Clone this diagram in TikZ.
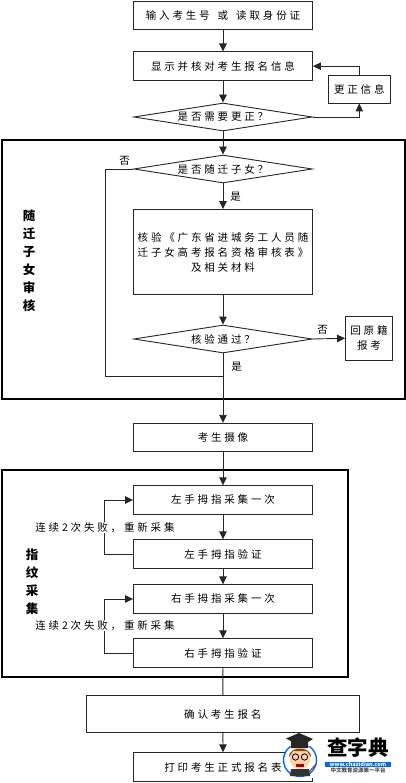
\documentclass[tikz,border=0pt]{standalone}
\usepackage{fontspec}
\usetikzlibrary{shapes.geometric,arrows.meta,calc}
\setmainfont{Noto Sans CJK SC}
\newfontfamily\spaced[LetterSpace=27]{Noto Sans CJK SC}
\tikzset{
  box/.style={draw=black!85,line width=0.9pt,rectangle,inner sep=0pt,minimum width=179pt,minimum height=28.5pt,align=center,font=\fontsize{10.5pt}{15pt}\spaced},
  smallbox/.style={box,minimum width=61.5pt,minimum height=28pt},
  dia/.style={draw=black!85,line width=0.9pt,diamond,inner sep=0pt,minimum width=178.5pt,minimum height=28pt,shape aspect=6.37},
  txt/.style={inner sep=0pt,font=\fontsize{10.5pt}{15pt}\spaced},
  frame/.style={draw=black,line width=2pt},
  side/.style={inner sep=0pt,align=center,font=\fontsize{12.5pt}{18pt}\selectfont\bfseries},
  flow/.style={draw=black!85,line width=0.9pt,-{Triangle[length=8pt,width=7.5pt]}},
  plain/.style={draw=black!85,line width=0.9pt},
  wmtext/.style={inner sep=0pt,font=\fontsize{5.5pt}{6pt}\selectfont\bfseries},
}
\begin{document}
\begin{tikzpicture}[x=1pt,y=-1pt]
\useasboundingbox (0,0) rectangle (406,783);
\fill[white] (0,0) rectangle (406,783);
% frames
\draw[frame] (2,140.5) rectangle (405,398.5);
\draw[frame] (2,469.5) rectangle (348,677);
% boxes
\node[box] (b1) at (223,15.7) {输入考生号\hspace{8pt}或\hspace{8pt}读取身份证};
\node[box] (b2) at (223,66.2) {显示并核对考生报名信息};
\node[smallbox] (fix) at (359.3,89) {更正信息};
\node[dia] (d1) at (223,117) {};
\node[txt] at (d1) {是否需要更正？};
\node[dia] (d2) at (223,169) {};
\node[txt] at (d2) {是否随迁子女？};
\node[box,minimum height=85pt] (b3) at (223,252) {核验《广东省进城务工人员随\\迁子女高考报名资格审核表》\\及相关材料};
\node[dia] (d3) at (223,339) {};
\node[txt] at (d3) {核验通过？};
\node[box,minimum width=47pt,minimum height=44pt] (back) at (369,338.3) {回原籍\\报考};
\node[box] (b4) at (223,437.5) {考生摄像};
\node[box] (b5) at (223,500) {左手拇指采集一次};
\node[box] (b6) at (223,554) {左手拇指验证};
\node[box] (b7) at (223,599) {右手拇指采集一次};
\node[box] (b8) at (223,653) {右手拇指验证};
\node[box,minimum width=273.5pt,minimum height=37pt] (b9) at (222.8,714.2) {确认考生报名};
\node[box] (b10) at (223,767) {打印考生正式报名表};
\coordinate (jn) at (223,376.5);
\coordinate (lt) at (105,376.5);
\coordinate (lb) at (105,169);
\coordinate (fixin) at (359.3,117);
\coordinate (fixout) at (359.3,66.2);
% connectors
\draw[flow] (b1) -- (b2);
\draw[flow] (b2) -- (d1.north);
\draw[flow] (d1) -- (d2.north);
\draw[flow] (d1.east) -- (fixin) -- (fix.south);
\draw[flow] (fix.north) -- (fixout) -- (b2.east);
\draw[flow] (d2) -- (b3.north);
\draw[flow] (b3) -- (d3.north);
\draw[flow] (d3.east) -- (back.west);
\draw[plain] (d2.west) -- (lb) -- (lt) -- (jn);
\draw[flow] (d3.south) -- (b4.north);
\draw[flow] (b4) -- (b5.north);
\draw[flow] (b5) -- (b6.north);
\draw[flow] (b6) -- (b7.north);
\draw[flow] (b7) -- (b8.north);
\draw[plain] (b8) -- (b9);
\draw[flow] (b9) -- (b10.north);
\draw[flow] (b6.west) -- ++(-28.5,0) |- (b5.west);
\draw[flow] (b8.west) -- ++(-28.5,0) |- (b7.west);
% labels
\node[txt,fill=white,inner ysep=1pt] at (105,527.5) {连续2次失败，重新采集};
\node[txt,fill=white,inner ysep=1pt] at (105,625.5) {连续2次失败，重新采集};
\node[txt] at (124.5,161) {否};
\node[txt] at (235.5,197) {是};
\node[txt] at (322.5,330) {否};
\node[txt] at (236.5,367) {是};
\node[side] at (29,261) {随\\迁\\子\\女\\审\\核};
\node[side] at (32,581.5) {指\\纹\\采\\集};
% watermark
\fill[white] (285,733) rectangle (392,783);
\draw[plain] (285,781) -- (312.5,781) -- (312.5,778);
\draw[draw=blue!60!cyan,line width=1.4pt] (300,760) circle (16.5);
\fill[white] (284,733) rectangle (316,746);
\fill[orange!35!white] (300,758) ellipse (10.5 and 11);
\fill[brown!60!black] (289,757) .. controls (288,746) and (312,746) .. (311,757) -- (307,751) -- (293,751) -- cycle;
\fill[black!85] (286,738.5) -- (299,733) -- (313,739) -- (308,742) -- (308,748) -- (291,748) -- (291,741) -- cycle;
\draw[black,line width=0.8pt] (295.5,757) circle (3.2) (304.5,757) circle (3.2);
\fill[red!70!black] (296,764) rectangle (304,767);
\fill[black!80] (291,769) -- (309,769) -- (310,776) -- (290,776) -- cycle;
\draw[brown!60!black,line width=1pt] (309,772) -- (316,764);
\node[inner sep=0pt,font=\fontsize{20.5pt}{22pt}\selectfont\bfseries] (wm) at (358,748) {查字典};
\fill[blue!60!cyan] (324.5,762) rectangle (391,766.8);
\node[wmtext,text=white] at (358,764.3) {www.chazidian.com};
\node[wmtext,text=black!70] at (358,770.8) {中文教育资源第一平台};
\end{tikzpicture}
\end{document}
